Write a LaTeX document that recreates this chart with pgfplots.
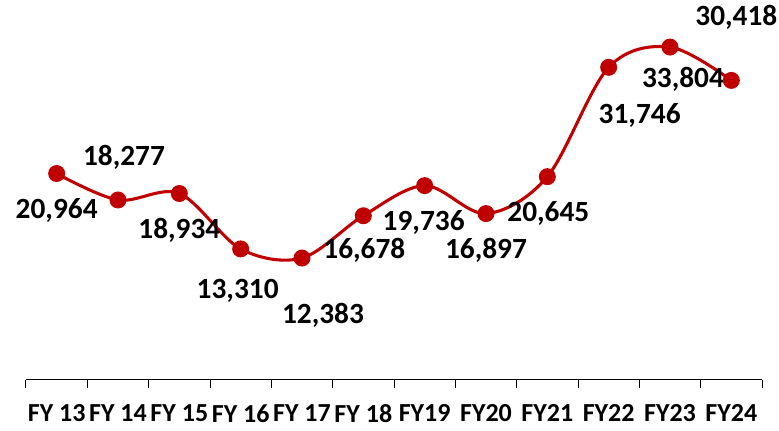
\documentclass[border=0pt]{standalone}
\usepackage{fontspec}
\setmainfont{Carlito}
\usepackage{pgfplots}
\usepackage{pgfplotstable}
\pgfplotsset{compat=1.18}
\definecolor{linered}{HTML}{C00000}

% x, value, label offset (px): dx, dy
\pgfplotstableread{
x  y      dx  dy
0  20964  0   -37
1  18277  6   43
2  18934  0   -37
3  13310  -3  -42
4  12383  21  -57
5  16678  1   -35
6  19736  -1  -37
7  16897  0   -37
8  20645  1   -37
9  31746  31  -48
10 33804  13  -32
11 30418  5   63
}\revenue

\begin{document}
\begin{tikzpicture}
\begin{axis}[
  scale only axis,
  width=552pt, height=280.7pt,
  xmin=-0.5, xmax=11.5,
  ymin=0, ymax=38000,
  axis x line*=bottom,
  axis y line=none,
  x axis line style={black, line width=0.75pt},
  xtick={-0.5,0.5,...,11.5},
  x tick label as interval,
  xticklabels={FY 13,FY 14,FY 15,FY 16,FY 17,FY 18,FY19,FY20,FY21,FY22,FY23,FY24},
  xticklabel style={font=\fontsize{19.5pt}{20pt}\selectfont\bfseries, yshift=-9pt},
  tick align=outside,
  major tick length=6pt,
  tick style={black, line width=0.75pt},
  ytick=\empty,
  clip=false,
]
\addplot[
  linered, line width=2.3pt, smooth, tension=0.55,
  mark=*, mark size=5.2pt, mark options={fill=linered, draw=linered},
  visualization depends on={\thisrow{dx} \as \ldx},
  visualization depends on={\thisrow{dy} \as \ldy},
  nodes near coords={\pgfmathprintnumber[assume math mode=true, 1000 sep={,}]{\pgfplotspointmeta}},
  point meta=explicit,
  nodes near coords style={black, anchor=center,
    font=\fontsize{22pt}{23pt}\selectfont\bfseries,
    xshift=0.75*\ldx pt, yshift=0.75*\ldy pt},
] table[x=x, y=y, meta=y] {\revenue};
\end{axis}
\pgfresetboundingbox
\path (current axis.south west) ++(-19.5pt,-38.25pt) coordinate (bl);
\path (current axis.north east) ++(12.75pt,4.3pt) coordinate (tr);
\path[use as bounding box] (bl) rectangle (tr);
\end{tikzpicture}
\end{document}
